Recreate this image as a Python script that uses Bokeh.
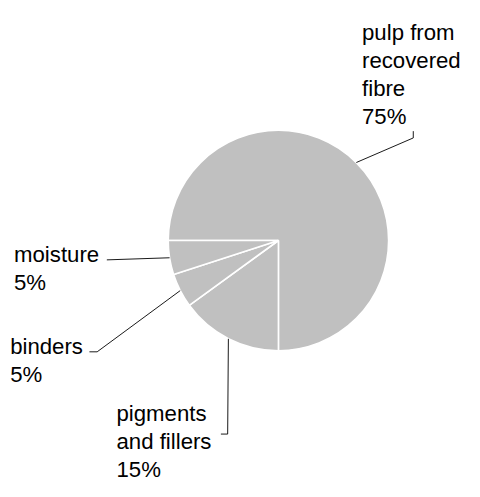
import math
from bokeh.plotting import figure
from bokeh.models import Range1d, ColumnDataSource
from bokeh.core.properties import value
from bokeh.embed import file_html
from bokeh.resources import INLINE

# ---- data ----
categories = ["pulp from recovered fibre", "pigments and fillers", "binders", "moisture"]
shares = [75, 15, 5, 5]
label_lines = [["pulp from", "recovered", "fibre"], ["pigments", "and fillers"], ["binders"], ["moisture"]]

# ---- layout (reference pixel coordinates, scaled into a 464x481 canvas) ----
W, H = 464, 481
RW, RH = 480, 497
def Y(yr):
    return RH - yr

cx, cy, r = 287.5, Y(248), 114
label_anchor = [(374, 33), (120, 427), (10, 357), (14, 262)]
leader_tail = [[(427, 142), (427, 135)], [(235, 448), (228, 448)], [(100, 363), (92, 363)], [(110, 268)]]
line_gap = 29.0
FONT = "Liberation Sans"
font_px = 23 * W / RW

p = figure(width=W, height=H, output_backend="svg", toolbar_location=None,
           x_range=Range1d(0, RW), y_range=Range1d(0, RH),
           x_axis_type=None, y_axis_type=None, min_border=0)
p.grid.visible = False
p.outline_line_color = None
p.background_fill_color = "white"
p.border_fill_color = "white"

total = sum(shares)
starts, ends, mids = [], [], []
acc = 0
for v in shares:
    a0 = math.pi - acc / total * 2 * math.pi
    acc += v
    a1 = math.pi - acc / total * 2 * math.pi
    starts.append(a0)
    ends.append(a1)
    mids.append((a0 + a1) / 2)

src = ColumnDataSource(dict(cat=categories, v=shares, start=starts, end=ends))
p.wedge(x=cx, y=cy, radius=r, start_angle="start", end_angle="end", direction="clock",
        fill_color="#c0c0c0", line_color="white", line_width=1.6, source=src)

# leader lines
xs, ys = [], []
for m, tail in zip(mids, leader_tail):
    px = [cx + r * math.cos(m)] + [t[0] for t in tail]
    py = [cy + r * math.sin(m)] + [Y(t[1]) for t in tail]
    xs.append(px)
    ys.append(py)
p.multi_line(xs=xs, ys=ys, line_color="black", line_width=0.9)

# labels
tx, ty, tt = [], [], []
for lines, v, (ax, ay) in zip(label_lines, shares, label_anchor):
    allines = lines + [f"{v}%"]
    for i, s in enumerate(allines):
        tx.append(ax)
        ty.append(Y(ay + i * line_gap))
        tt.append(s)
p.text(x=tx, y=ty, text=tt, text_font=value(FONT), text_font_size=f"{font_px:.1f}px",
       text_align="left", text_baseline="alphabetic", text_color="black")

open("out.html", "w").write(file_html(p, INLINE))
